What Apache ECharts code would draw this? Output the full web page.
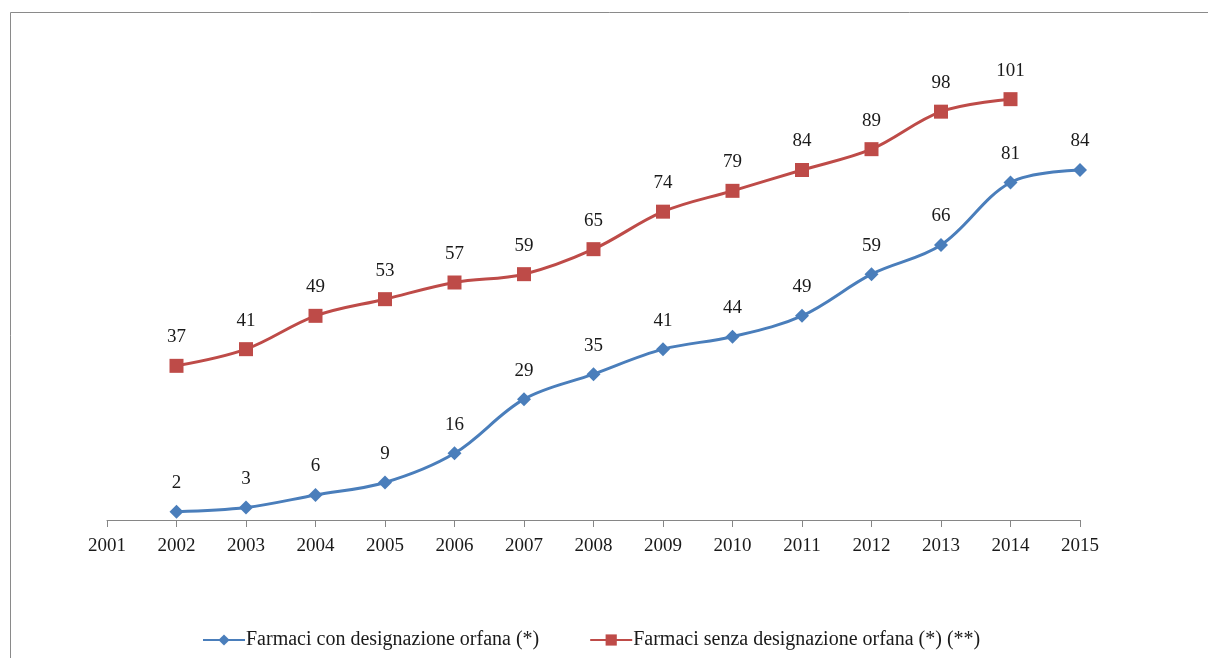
<!DOCTYPE html>
<html>
<head>
<meta charset="utf-8">
<script src="https://cdn.jsdelivr.net/npm/echarts@6/dist/echarts.min.js"></script>
<style>
  html, body { margin: 0; padding: 0; background: #fff; }
  #chart { width: 1208px; height: 658px; }
</style>
</head>
<body>
<div id="chart"></div>
<script>
// Years on the category axis
const years = ['2001','2002','2003','2004','2005','2006','2007','2008','2009','2010','2011','2012','2013','2014','2015'];
// Medicines with orphan designation (cumulative)
const orphanValues = [null, 2, 3, 6, 9, 16, 29, 35, 41, 44, 49, 59, 66, 81, 84];
// Medicines without orphan designation (cumulative)
const nonOrphanValues = [null, 37, 41, 49, 53, 57, 59, 65, 74, 79, 84, 89, 98, 101, null];

const seriesNames = ['Farmaci con designazione orfana (*)', 'Farmaci senza designazione orfana (*) (**)'];

const font = 'Liberation Serif, Times New Roman, serif';
const chart = echarts.init(document.getElementById('chart'), null, { renderer: 'canvas' });

const labelStyle = {
  show: true,
  position: 'top',
  distance: 12,
  fontFamily: font,
  fontSize: 19,
  color: '#1a1a1a'
};

chart.setOption({
  backgroundColor: '#ffffff',
  animation: false,
  graphic: [{
    type: 'rect',
    shape: { x: 10.5, y: 12.5, width: 1300, height: 700 },
    style: { fill: 'none', stroke: '#8a8a8a', lineWidth: 1 },
    silent: true,
    z: -1
  }],
  grid: { left: 107, right: 128, top: 20, bottom: 138, containLabel: false },
  legend: {
    top: 625,
    left: 197,
    itemGap: 50,
    itemWidth: 42,
    itemHeight: 14,
    textStyle: { fontFamily: font, fontSize: 20, color: '#1a1a1a', padding: [0, 0, 0, -4] },
    data: seriesNames
  },
  xAxis: {
    type: 'category',
    data: years,
    boundaryGap: false,
    axisLine: { lineStyle: { color: '#868686', width: 1 } },
    axisTick: { show: true, inside: false, length: 7, lineStyle: { color: '#868686' } },
    axisLabel: { fontFamily: font, fontSize: 19, color: '#1a1a1a', margin: 17 },
    splitLine: { show: false }
  },
  yAxis: {
    type: 'value',
    min: 0,
    max: 120,
    show: false
  },
  series: [
    {
      name: seriesNames[0],
      type: 'line',
      data: orphanValues,
      smooth: 0.35,
      symbol: 'diamond',
      symbolSize: 14,
      lineStyle: { color: '#4a7ebb', width: 3 },
      itemStyle: { color: '#4a7ebb' },
      label: labelStyle
    },
    {
      name: seriesNames[1],
      type: 'line',
      data: nonOrphanValues,
      smooth: 0.35,
      symbol: 'rect',
      symbolSize: 14,
      lineStyle: { color: '#be4b48', width: 3 },
      itemStyle: { color: '#be4b48' },
      label: labelStyle
    }
  ]
});
</script>
</body>
</html>
